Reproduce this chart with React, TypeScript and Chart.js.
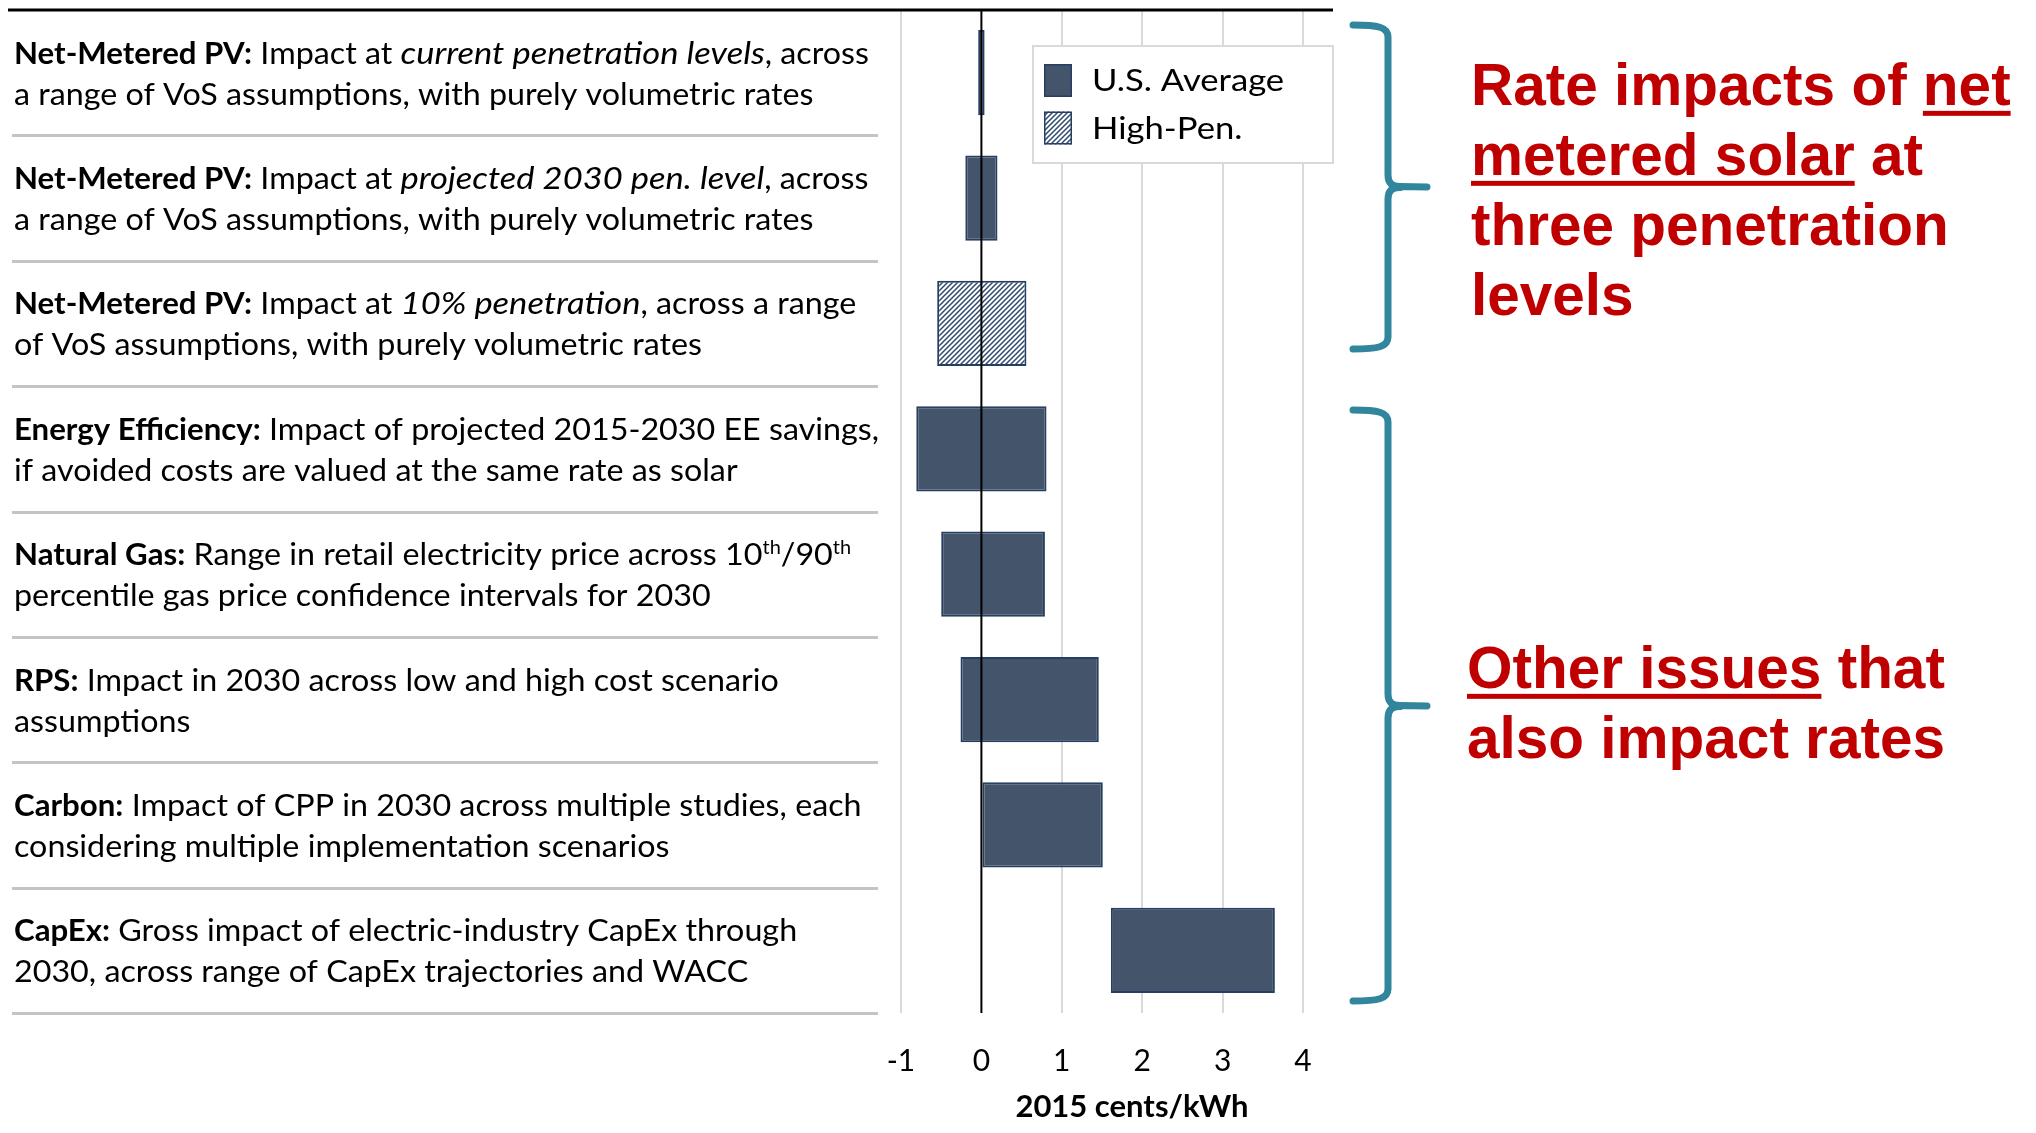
import React, { useEffect, useRef } from "react";
import { Chart, registerables } from "chart.js";

Chart.register(...registerables);

// ---- data ----
const categories = [
  "NEM current",
  "NEM 2030",
  "NEM 10%",
  "Energy Efficiency",
  "Natural Gas",
  "RPS",
  "Carbon",
  "CapEx",
];

// Row descriptions: **bold**, *italic*, ^superscript^
const categoryText: string[][] = [
  ["**Net-Metered PV:** Impact at *current penetration levels*, across", "a range of VoS assumptions, with purely volumetric rates"],
  ["**Net-Metered PV:** Impact at *projected 2030 pen. level*, across", "a range of VoS assumptions, with purely volumetric rates"],
  ["**Net-Metered PV:** Impact at *10% penetration*, across a range", "of VoS assumptions, with purely volumetric rates"],
  ["**Energy Efficiency:** Impact of projected 2015-2030 EE savings,", "if avoided costs are valued at the same rate as solar"],
  ["**Natural Gas:** Range in retail electricity price across 10^th^/90^th^", "percentile gas price confidence intervals for 2030"],
  ["**RPS:** Impact in 2030 across low and high cost scenario", "assumptions"],
  ["**Carbon:** Impact of CPP in 2030 across multiple studies, each", "considering multiple implementation scenarios"],
  ["**CapEx:** Gross impact of electric-industry CapEx through", "2030, across range of CapEx trajectories and WACC"],
];

const seriesNames = ["U.S. Average", "High-Pen."];
const usAverageLow: (number | null)[] = [-0.04, -0.2, null, -0.81, -0.5, -0.26, 0, 1.61];
const usAverageHigh: (number | null)[] = [0.04, 0.2, null, 0.81, 0.79, 1.46, 1.51, 3.65];
const highPenLow: (number | null)[] = [null, null, -0.55, null, null, null, null, null];
const highPenHigh: (number | null)[] = [null, null, 0.56, null, null, null, null, null];

const xMin = -1;
const xMax = 4;
const xStep = 1;
const axisTitle = "2015 cents/kWh";

// Side notes: __underlined__
const noteSolar = ["Rate impacts of __net__", "__metered solar__ at", "three penetration", "levels"];
const noteOther = ["__Other issues__ that", "also impact rates"];

// ---- styles ----
const BAR_FILL = "#44546A";
const BAR_EDGE = "#263F61";
const HATCH_LINE = "#2E4A6E";
const GRID = "#D9D9D9";
const SEPARATOR = "#C4C4C4";
const BRACE = "#31859C";
const NOTE_RED = "#C00000";
const TEXT = "#000000";
const SANS = "Lato";
const NOTE_FONT = "'Liberation Sans'";

type Stretch = { regular: number; bold: number; italic: number };
const SANS_STRETCH: Stretch = { regular: 1.075, bold: 1.04, italic: 1.15 };
const LEGEND_STRETCH: Stretch = { regular: 1.1, bold: 1.1, italic: 1.1 };
const NO_STRETCH: Stretch = { regular: 1, bold: 1, italic: 1 };

type Run = { text: string; bold: boolean; italic: boolean; sup: boolean; under: boolean };

function parseRich(src: string): Run[] {
  const runs: Run[] = [];
  let bold = false, italic = false, sup = false, under = false, buf = "";
  const flush = () => {
    if (buf) runs.push({ text: buf, bold, italic, sup, under });
    buf = "";
  };
  for (let i = 0; i < src.length; i++) {
    if (src.startsWith("**", i)) { flush(); bold = !bold; i++; }
    else if (src.startsWith("__", i)) { flush(); under = !under; i++; }
    else if (src[i] === "*") { flush(); italic = !italic; }
    else if (src[i] === "^") { flush(); sup = !sup; }
    else buf += src[i];
  }
  flush();
  return runs;
}

function drawRich(
  ctx: CanvasRenderingContext2D,
  src: string,
  x: number,
  y: number,
  size: number,
  family: string,
  color: string,
  forceBold = false,
  stretch: Stretch = NO_STRETCH
) {
  let cx = x;
  for (const r of parseRich(src)) {
    const isBold = r.bold || forceBold;
    const sx = r.italic ? stretch.italic : isBold ? stretch.bold : stretch.regular;
    const s = r.sup ? size * 0.62 : size;
    ctx.save();
    ctx.translate(cx, y);
    ctx.scale(sx, 1);
    ctx.fillStyle = color;
    ctx.textBaseline = "alphabetic";
    ctx.textAlign = "left";
    ctx.font = `${r.italic ? "italic " : ""}${isBold ? "bold " : ""}${s}px ${family}`;
    const dy = r.sup ? -size * 0.36 : 0;
    ctx.fillText(r.text, 0, dy);
    const w = ctx.measureText(r.text).width;
    if (r.under) {
      ctx.fillRect(0, size * 0.1, w, size * 0.085);
    }
    ctx.restore();
    cx += w * sx;
  }
  return cx - x;
}

function drawBrace(ctx: CanvasRenderingContext2D, x: number, top: number, mid: number, bottom: number) {
  const left = x - 35;
  const tip = x + 39;
  const r = 12;
  ctx.save();
  ctx.strokeStyle = BRACE;
  ctx.lineWidth = 7;
  ctx.lineCap = "round";
  ctx.lineJoin = "round";
  ctx.beginPath();
  ctx.moveTo(left, top);
  ctx.bezierCurveTo(x - 10, top, x, top + 2, x, top + r);
  ctx.lineTo(x, mid - r);
  ctx.quadraticCurveTo(x, mid, x + r, mid - 0.5);
  ctx.lineTo(tip, mid);
  ctx.moveTo(x + r, mid + 0.5);
  ctx.quadraticCurveTo(x, mid, x, mid + r);
  ctx.lineTo(x, bottom - r);
  ctx.bezierCurveTo(x, bottom - 2, x - 10, bottom, left, bottom);
  ctx.stroke();
  ctx.restore();
}

function makeHatch(): CanvasPattern | string {
  const size = 5;
  const c = document.createElement("canvas");
  c.width = size;
  c.height = size;
  const g = c.getContext("2d");
  if (!g) return "#ffffff";
  g.fillStyle = "#ffffff";
  g.fillRect(0, 0, size, size);
  g.strokeStyle = HATCH_LINE;
  g.lineWidth = 1.5;
  g.beginPath();
  for (const o of [-size, 0, size]) {
    g.moveTo(o - 1, size + 1);
    g.lineTo(o + size + 1, -1);
  }
  g.stroke();
  return g.createPattern(c, "repeat") || "#ffffff";
}

const decorPlugin = {
  id: "decor",
  afterDatasetsDraw(chart: any) {
    const { ctx, chartArea, scales } = chart;
    const x0 = scales.x.getPixelForValue(0);
    ctx.save();
    ctx.strokeStyle = "#000";
    ctx.lineWidth = 2;
    ctx.beginPath();
    ctx.moveTo(x0, chartArea.top);
    ctx.lineTo(x0, chartArea.bottom);
    ctx.stroke();
    ctx.restore();
  },
  afterDraw(chart: any) {
    const { ctx, chartArea, scales } = chart;
    const yScale = scales.y;
    const band = yScale.getPixelForValue(1) - yScale.getPixelForValue(0);
    const tableLeft = 12;
    const tableRight = 878;
    const legendBox = { x: 1033, y: 46, w: 300, h: 117 };

    ctx.save();

    // row separators
    ctx.strokeStyle = SEPARATOR;
    ctx.lineWidth = 3;
    categories.forEach((_, i) => {
      const yb = Math.round(yScale.getPixelForValue(i) + band / 2) + 0.5;
      ctx.beginPath();
      ctx.moveTo(tableLeft, yb);
      ctx.lineTo(tableRight, yb);
      ctx.stroke();
    });

    // heavy rule across the top of the table
    ctx.strokeStyle = "#000";
    ctx.lineWidth = 3;
    ctx.beginPath();
    ctx.moveTo(8, chartArea.top);
    ctx.lineTo(legendBox.x + legendBox.w, chartArea.top);
    ctx.stroke();

    // row descriptions
    categoryText.forEach((lines, i) => {
      const cy = yScale.getPixelForValue(i);
      lines.forEach((line, k) => {
        drawRich(ctx, line, 14, cy - 9 + k * 41, 30, SANS, TEXT, false, SANS_STRETCH);
      });
    });

    // legend
    ctx.fillStyle = "#fff";
    ctx.fillRect(legendBox.x, legendBox.y, legendBox.w, legendBox.h);
    ctx.strokeStyle = GRID;
    ctx.lineWidth = 2;
    ctx.strokeRect(legendBox.x, legendBox.y, legendBox.w, legendBox.h);
    chart.data.datasets.forEach((ds: any, k: number) => {
      const sy = 64 + k * 47.5;
      ctx.fillStyle = ds.backgroundColor;
      ctx.fillRect(1044, sy, 28, 33);
      ctx.strokeStyle = ds.borderColor;
      ctx.lineWidth = 1.5;
      ctx.strokeRect(1044.75, sy + 0.75, 26.5, 31.5);
      drawRich(ctx, ds.label, 1092, 91 + k * 47.5, 31.5, SANS, TEXT, false, LEGEND_STRETCH);
    });

    // axis title
    ctx.fillStyle = TEXT;
    ctx.font = `bold 31px ${SANS}`;
    ctx.textAlign = "center";
    ctx.textBaseline = "alphabetic";
    ctx.fillText(axisTitle, 1132, 1117);

    // braces and notes
    drawBrace(ctx, 1388, 25, 187, 349);
    drawBrace(ctx, 1388, 410, 706, 1001);
    noteSolar.forEach((line, k) => {
      drawRich(ctx, line, 1471, 105 + k * 70, 58.5, NOTE_FONT, NOTE_RED, true);
    });
    noteOther.forEach((line, k) => {
      drawRich(ctx, line, 1467, 688 + k * 70, 58.5, NOTE_FONT, NOTE_RED, true);
    });

    ctx.restore();
  },
};

export default function App() {
  const ref = useRef<HTMLCanvasElement>(null);

  useEffect(() => {
    const canvas = ref.current;
    if (!canvas) return;
    const hatch = makeHatch();
    const pair = (lo: (number | null)[], hi: (number | null)[]) =>
      lo.map((v, i) => (v == null || hi[i] == null ? null : [v, hi[i] as number]));

    const chart = new Chart(canvas, {
      type: "bar",
      data: {
        labels: categories,
        datasets: [
          {
            label: seriesNames[0],
            data: pair(usAverageLow, usAverageHigh) as any,
            backgroundColor: BAR_FILL,
            borderColor: BAR_EDGE,
            borderWidth: 2,
            borderSkipped: false,
            grouped: false,
            categoryPercentage: 1,
            barPercentage: 0.68,
          },
          {
            label: seriesNames[1],
            data: pair(highPenLow, highPenHigh) as any,
            backgroundColor: hatch as any,
            borderColor: BAR_EDGE,
            borderWidth: 2,
            borderSkipped: false,
            grouped: false,
            categoryPercentage: 1,
            barPercentage: 0.68,
          },
        ],
      },
      options: {
        indexAxis: "y",
        responsive: false,
        devicePixelRatio: 1,
        animation: false,
        events: [],
        layout: { padding: { left: 901, right: 733, top: 10, bottom: 24 } },
        plugins: {
          legend: { display: false },
          tooltip: { enabled: false },
          title: { display: false },
        },
        scales: {
          x: {
            type: "linear",
            min: xMin,
            max: xMax,
            border: { display: false },
            grid: {
              color: (c: any) => (c.tick && c.tick.value === 0 ? "rgba(0,0,0,0)" : GRID),
              lineWidth: 2,
              drawTicks: false,
            },
            ticks: {
              stepSize: xStep,
              padding: 30,
              color: TEXT,
              font: { family: SANS, size: 30 },
            },
          },
          y: {
            type: "category",
            display: false,
          },
        },
      },
      plugins: [decorPlugin],
    } as any);

    let alive = true;
    const fonts: any = (document as any).fonts;
    if (fonts && fonts.load) {
      Promise.all([
        fonts.load(`30px ${SANS}`),
        fonts.load(`bold 30px ${SANS}`),
        fonts.load(`italic 30px ${SANS}`),
        fonts.load(`bold 58px ${NOTE_FONT}`),
      ])
        .then(() => {
          if (alive) chart.update("none");
        })
        .catch(() => {});
    }

    return () => {
      alive = false;
      chart.destroy();
    };
  }, []);

  return (
    <div style={{ position: "fixed", left: 0, top: 0, width: 2036, height: 1133, background: "#fff" }}>
      <canvas ref={ref} width={2036} height={1133} style={{ width: 2036, height: 1133, display: "block" }} />
    </div>
  );
}
